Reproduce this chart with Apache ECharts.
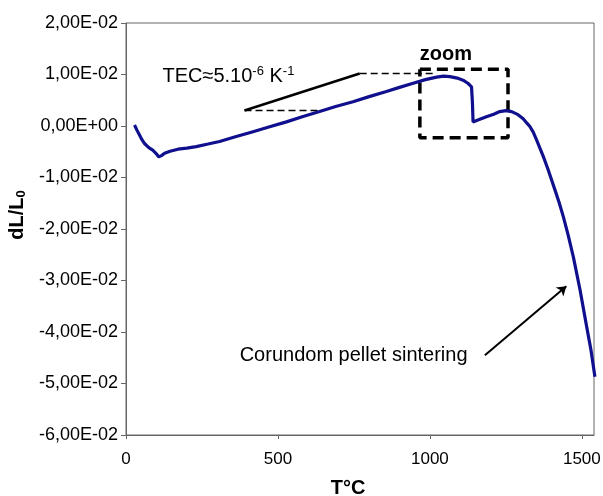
<!DOCTYPE html>
<html>
<head>
<meta charset="utf-8">
<script src="https://cdn.jsdelivr.net/npm/echarts@6/dist/echarts.min.js"></script>
<style>
  html, body { margin: 0; padding: 0; background: #fff; }
  #chart { width: 603px; height: 496px; }
</style>
</head>
<body>
<div id="chart"></div>
<script>
// dilatometry curve, T (°C) vs dL/L0
const temps = [28, 36, 44, 52, 61, 75, 88, 100, 108, 118, 127, 145, 171, 200, 231, 270, 308, 360, 418, 470,
  528, 580, 637, 690, 747, 800, 857, 900, 945, 985, 1022, 1045, 1066, 1090, 1109, 1125, 1137, 1140, 1142,
  1160, 1186, 1210, 1230, 1250, 1269, 1290, 1307, 1320, 1329, 1340, 1351, 1362, 1375, 1388, 1400, 1412,
  1425, 1439, 1455, 1472, 1494, 1516, 1530, 1543];
const dL = [0.0002, -0.0008, -0.0017, -0.0026, -0.0034, -0.0042, -0.0047, -0.0054, -0.0060, -0.0057, -0.0053,
  -0.0049, -0.0045, -0.0043, -0.0040, -0.0035, -0.0030, -0.0021, -0.0011, -0.0002,
  0.0008, 0.0018, 0.0028, 0.0038, 0.0047, 0.0057, 0.0067, 0.0075, 0.0083, 0.0090, 0.0095, 0.0097, 0.0096,
  0.0093, 0.0089, 0.0083, 0.0076, 0.0045, 0.0008,
  0.0012, 0.0018, 0.0023, 0.0028, 0.0030, 0.0028, 0.0022, 0.0014, 0.0005, -0.0001, -0.0012, -0.0027,
  -0.0043, -0.0062, -0.0083, -0.0104, -0.0125,
  -0.0148, -0.0176, -0.0212, -0.0254, -0.0318, -0.0390, -0.0435, -0.0487];

const xTicks = [0, 500, 1000, 1500];
const yTicks = [-0.06, -0.05, -0.04, -0.03, -0.02, -0.01, 0, 0.01, 0.02];

// annotations (data coords)
const tecSlope = [[390, 0.0030], [769, 0.0102]];
const tecUpper = [[769, 0.0102], [1010, 0.0102]];
const tecLower = [[390, 0.0030], [637, 0.0030]];
const zoomBox = [[967, 0.0110], [1257, 0.0110], [1257, -0.0023], [967, -0.0023], [967, 0.0110]];
const arrow = [[1181, -0.0445], [1449, -0.0311]];

const curve = temps.map((t, i) => [t, dL[i]]);

function sciFmt(v) {
  if (Math.abs(v) < 1e-12) return '0,00E+00';
  const parts = v.toExponential(2).split('e');
  const n = parseInt(parts[1], 10);
  return parts[0].replace('.', ',') + 'E' + (n < 0 ? '-' : '+') + String(Math.abs(n)).padStart(2, '0');
}

const font = 'Liberation Sans, Arial, sans-serif';
const chart = echarts.init(document.getElementById('chart'));

chart.setOption({
  animation: false,
  grid: {
    left: 126, right: 9, top: 23, bottom: 61, outerBoundsMode: 'none', containLabel: false,
    show: true, borderColor: '#666', borderWidth: 1
  },
  xAxis: {
    type: 'value', min: 0, max: 1540, interval: 500,
    name: 'T°C', nameLocation: 'middle', nameGap: 43,
    nameTextStyle: { fontFamily: font, fontSize: 20, fontWeight: 'bold', color: '#000', padding: [0, 24, 0, 0] },
    axisLine: { show: true, onZero: false, lineStyle: { color: '#666' } },
    axisTick: { show: true, length: 4, lineStyle: { color: '#666' } },
    splitLine: { show: false },
    axisLabel: {
      fontFamily: font, fontSize: 17, color: '#000', margin: 16, showMaxLabel: false,
      formatter: v => (xTicks.includes(v) ? String(v) : '')
    }
  },
  yAxis: {
    type: 'value', min: -0.06, max: 0.02, interval: 0.01,
    name: '{a|dL/L}{s|0}', nameLocation: 'middle', nameGap: 92, nameRotate: 90,
    nameTextStyle: {
      padding: [0, 0, 0, 28],
      rich: {
        a: { fontFamily: font, fontSize: 20, fontWeight: 'bold', color: '#000' },
        s: { fontFamily: font, fontSize: 13, fontWeight: 'bold', color: '#000', padding: [8, 0, 0, 0] }
      }
    },
    axisLine: { show: true, onZero: false, lineStyle: { color: '#666' } },
    axisTick: { show: true, length: 5, lineStyle: { color: '#666' } },
    splitLine: { show: false },
    axisLabel: { fontFamily: font, fontSize: 18, color: '#000', margin: 8, formatter: sciFmt }
  },
  series: [
    {
      type: 'line', data: curve, showSymbol: false, silent: true,
      lineStyle: { color: '#10108e', width: 3.2 }, z: 5
    },
    {
      type: 'line', data: tecSlope, showSymbol: false, silent: true,
      lineStyle: { color: '#000', width: 2.5 }
    },
    {
      type: 'line', data: tecUpper, showSymbol: false, silent: true,
      lineStyle: { color: '#000', width: 1.4, type: [7, 4] }
    },
    {
      type: 'line', data: tecLower, showSymbol: false, silent: true,
      lineStyle: { color: '#000', width: 1.4, type: [7, 4] }
    },
    {
      type: 'line', data: zoomBox, showSymbol: false, silent: true,
      lineStyle: { color: '#000', width: 3.5, type: [11, 6] }
    },
    {
      type: 'lines', coordinateSystem: 'cartesian2d', silent: true,
      symbol: ['none', 'arrow'], symbolSize: 9,
      lineStyle: { color: '#000', width: 2, opacity: 1 },
      data: [{ coords: arrow }]
    }
  ]
});

// text labels placed in data coordinates
const p = (t, v) => chart.convertToPixel({ gridIndex: 0 }, [t, v]);
const tecPos = p(120, 0.0097);
const zoomPos = p(967, 0.0138);
const sintPos = p(374, -0.0445);
chart.setOption({
  graphic: [
    {
      type: 'text', x: tecPos[0], y: tecPos[1],
      style: {
        text: '{m|TEC≈5.10}{s|-6}{m| K}{s|-1}', verticalAlign: 'middle', align: 'left',
        rich: {
          m: { fontFamily: font, fontSize: 20, fill: '#000' },
          s: { fontFamily: font, fontSize: 13, fill: '#000', padding: [0, 0, 10, 0] }
        }
      }
    },
    {
      type: 'text', x: zoomPos[0], y: zoomPos[1],
      style: { text: 'zoom', font: 'bold 20px ' + font, fill: '#000', verticalAlign: 'middle', align: 'left' }
    },
    {
      type: 'text', x: sintPos[0], y: sintPos[1],
      style: { text: 'Corundom pellet sintering', font: '20px ' + font, fill: '#000', verticalAlign: 'middle', align: 'left' }
    }
  ]
});
</script>
</body>
</html>
